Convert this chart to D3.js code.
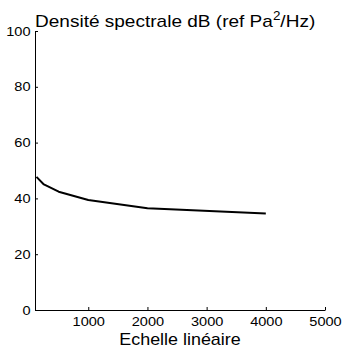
<!DOCTYPE html>
<html>
<head>
<meta charset="utf-8">
<script src="https://cdn.jsdelivr.net/npm/d3@7"></script>
<style>
  body { margin: 0; background: #fff; }
  svg text { font-family: "Liberation Sans", Arial, sans-serif; fill: #000; }
</style>
</head>
<body>
<div id="chart"></div>
<script>
// octave band centres (Hz) and spectral density (dB)
var freqs = [125, 250, 500, 1000, 2000, 4000];
var levels = [47.7, 45.0, 42.4, 39.4, 36.5, 34.6];
var xTicks = [1000, 2000, 3000, 4000, 5000];
var yTicks = [0, 20, 40, 60, 80, 100];

var width = 343, height = 348;
// the original's lettering is a bit wider than Liberation Sans
var stretch = "scale(1.12,1)";

var svg = d3.select("#chart")
	.append("svg")
	.attr("width", width)
	.attr("height", height);

var x = d3.scaleLinear()
	.domain([100, 5000])
	.range([35, 325]);

var y = d3.scaleLinear()
	.domain([0, 100])
	.range([310, 31]);

// x axis, ticks pointing up into the plot
svg.append("g")
	.attr("transform", "translate(0,310)")
	.call(d3.axisBottom(x).tickValues(xTicks).tickFormat(d3.format("d"))
		.tickSizeInner(-3).tickSizeOuter(0).tickPadding(7));

// y axis, ticks pointing right
svg.append("g")
	.attr("transform", "translate(35,0)")
	.call(d3.axisLeft(y).tickValues(yTicks).tickFormat(d3.format("d"))
		.tickSizeInner(-3).tickSizeOuter(0).tickPadding(4));

svg.selectAll(".tick text")
	.style("font-size", "13px")
	.style("font-family", "\"Liberation Sans\", Arial, sans-serif")
	.attr("fill", "#000")
	.attr("transform", stretch);
svg.selectAll(".domain").attr("stroke", "#000");
svg.selectAll(".tick line").attr("stroke", "#000");

svg.append("path")
	.datum(freqs.map(function(f, i) { return [f, levels[i]]; }))
	.attr("fill", "none")
	.attr("stroke", "#000")
	.attr("stroke-width", 2)
	.attr("stroke-linejoin", "round")
	.attr("d", d3.line()
		.x(function(d) { return x(d[0]); })
		.y(function(d) { return y(d[1]); }));

// title
var title = svg.append("g")
	.attr("transform", "translate(35,27)")
	.append("text")
	.attr("transform", stretch)
	.style("font-size", "17px");
title.append("tspan").text("Densité spectrale dB (ref Pa");
title.append("tspan").attr("dy", -7).style("font-size", "12px").text("2");
title.append("tspan").attr("dy", 7).text("/Hz)");

// x label
svg.append("g")
	.attr("transform", "translate(180,345)")
	.append("text")
	.attr("transform", stretch)
	.attr("text-anchor", "middle")
	.style("font-size", "16px")
	.text("Echelle linéaire");
</script>
</body>
</html>
